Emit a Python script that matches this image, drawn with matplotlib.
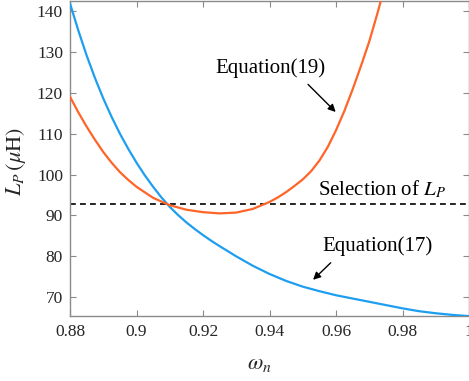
import matplotlib
matplotlib.use("Agg")
import matplotlib.pyplot as plt

# values
omega17 = [0.8800, 0.8825, 0.8850, 0.8875, 0.8900, 0.8925, 0.8950, 0.8975,
           0.9000, 0.9025, 0.9050, 0.9075, 0.9100, 0.9125, 0.9150, 0.9175,
           0.9200, 0.9225, 0.9250, 0.9300, 0.9350, 0.9400, 0.9450, 0.9500,
           0.9550, 0.9600, 0.9650, 0.9700, 0.9750, 0.9800, 0.9850, 0.9900,
           0.9950, 1.0000]
lp_eq17 = [141.8, 135.2, 129.1, 123.6, 118.6, 114.1, 110.0, 106.3,
           102.9, 99.8, 97.0, 94.4, 92.1, 90.1, 88.3, 86.7,
           85.2, 83.8, 82.5, 80.0, 77.7, 75.7, 74.0, 72.6,
           71.5, 70.5, 69.7, 68.9, 68.1, 67.3, 66.6, 66.1,
           65.7, 65.4]

omega19 = [0.8800, 0.8825, 0.8850, 0.8875, 0.8900, 0.8925, 0.8950, 0.8975,
           0.9000, 0.9050, 0.9100, 0.9150, 0.9200, 0.9250, 0.9300, 0.9350,
           0.9400, 0.9425, 0.9450, 0.9475, 0.9500, 0.9525, 0.9550, 0.9575,
           0.9600, 0.9625, 0.9650, 0.9675, 0.9700, 0.9725, 0.9750]
lp_eq19 = [119.0, 115.2, 111.7, 108.5, 105.5, 102.9, 100.6, 98.7,
           97.0, 94.3, 92.5, 91.4, 90.8, 90.5, 90.7, 91.6,
           93.3, 94.4, 95.7, 97.2, 98.8, 100.8, 103.4, 106.7,
           110.8, 115.5, 120.8, 126.5, 132.5, 139.5, 147.0]

lp_selected = 92.8

xticks = [0.88, 0.90, 0.92, 0.94, 0.96, 0.98, 1.00]
xtick_labels = ["0.88", "0.9", "0.92", "0.94", "0.96", "0.98", "1"]
yticks = [70, 80, 90, 100, 110, 120, 130, 140]

plt.rcParams["font.family"] = "serif"
plt.rcParams["font.serif"] = ["Liberation Serif", "Times New Roman", "DejaVu Serif"]
plt.rcParams["mathtext.fontset"] = "stix"

fig = plt.figure(figsize=(4.69, 3.81), dpi=100)
ax = fig.add_axes([70 / 469, 65 / 381, 399 / 469, 315 / 381])

ax.plot(omega17, lp_eq17, color="#1e9ef0", lw=1.6, zorder=3)
ax.plot(omega19, lp_eq19, color="#ff6428", lw=1.6, zorder=3)
ax.axhline(lp_selected, color="black", lw=1.2, ls=(0, (3.5, 2.5)), zorder=2)

ax.set_xlim(0.88, 1.0)
ax.set_ylim(65.43, 142.4)
ax.set_xticks(xticks)
ax.set_xticklabels(xtick_labels)
ax.set_yticks(yticks)

for s in ax.spines.values():
    s.set_color("#8a8a8a")
    s.set_linewidth(1.0)
ax.tick_params(direction="in", top=True, right=True, length=4, width=0.8,
               color="#8a8a8a", labelcolor="#262626", labelsize=12.5)
ax.tick_params(axis="x", pad=6)
ax.tick_params(axis="y", pad=5)

ax.set_xlabel(r"$\omega_n$", fontsize=16, color="#262626")
ax.set_ylabel(r"$L_P\,(\mu\mathrm{H})$", fontsize=16, color="#262626")
ax.xaxis.set_label_coords(0.475, -0.125)
ax.yaxis.set_label_coords(-0.105, 0.49)

ax.text(0.9403, 126.1, "Equation(19)", fontsize=15, ha="center", va="center")
ax.annotate("", xy=(0.9605, 114.8), xytext=(0.951, 122.5),
            arrowprops=dict(arrowstyle="-|>", color="black", lw=1.0, mutation_scale=11))

ax.text(0.9739, 96.3, r"Selection of $L_P$", fontsize=15, ha="center", va="center")

ax.text(0.9724, 82.4, "Equation(17)", fontsize=15, ha="center", va="center")
ax.annotate("", xy=(0.9525, 73.8), xytext=(0.959, 78.9),
            arrowprops=dict(arrowstyle="-|>", color="black", lw=1.0, mutation_scale=11))

fig.savefig("out.png", dpi=100)
